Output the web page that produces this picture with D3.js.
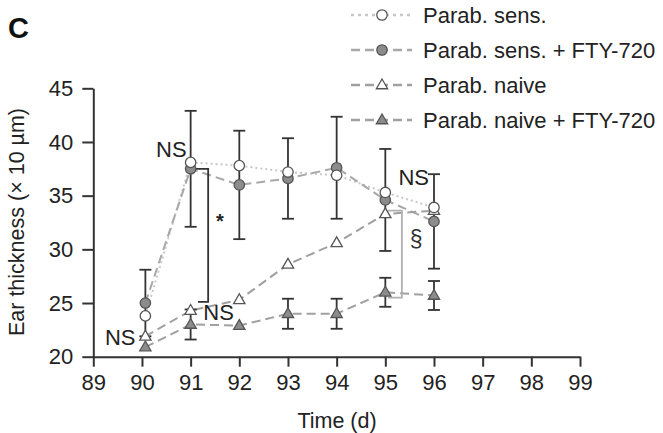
<!DOCTYPE html>
<html>
<head>
<meta charset="utf-8">
<script src="https://cdn.jsdelivr.net/npm/d3@7"></script>
<style>
  body { margin: 0; background: #fff; }
  svg { display: block; font-family: "Liberation Sans", Arial, Helvetica, sans-serif; }
  .axis path, .axis line { stroke: #333; stroke-width: 2; }
  .axis text { font-size: 22px; fill: #222; }
</style>
</head>
<body>
<svg id="canvas" width="663" height="433"></svg>
<script>
// days (day 90 points sit a little right of the tick in the original)
var days = [90.07, 91, 92, 93, 94, 95, 96];

var sens      = [23.8, 38.1, 37.8, 37.2, 36.9, 35.3, 33.9];
var sensFty   = [25.0, 37.5, 36.0, 36.6, 37.6, 34.6, 32.6];
var sensFtyErr = [3.1, 5.4, 5.05, 3.75, 4.75, 4.75, 4.4];
var naive     = [21.9, 24.3, 25.3, 28.6, 30.6, 33.3, 33.6];
var naiveFty  = [20.9, 23.0, 22.9, 24.0, 24.0, 26.0, 25.7];
var naiveFtyErr = [0, 1.4, 0, 1.4, 1.4, 1.35, 1.35];

var xTicks = [89, 90, 91, 92, 93, 94, 95, 96, 97, 98, 99];
var yTicks = [20, 25, 30, 35, 40, 45];

var legendLabels = ["Parab. sens.", "Parab. sens. + FTY-720", "Parab. naive", "Parab. naive + FTY-720"];

// "NS" labels: [day, value] of the text's left baseline
var nsLabels = [[90.29, 38.6], [89.24, 21.1], [91.26, 23.4], [95.27, 36.0]];

var svg = d3.select("#canvas");

var x = d3.scaleLinear().domain([89, 99]).range([93.3, 580]);
var y = d3.scaleLinear().domain([20, 45]).range([356.7, 88.3]);

var series = [
    {name: legendLabels[0], vals: sens, shape: "circle", fill: "#fff", dash: "2,3", lineColor: "#c8c8c8"},
    {name: legendLabels[1], vals: sensFty, err: sensFtyErr, shape: "circle", fill: "#8c8c8c", dash: "9,5", lineColor: "#a8a8a8"},
    {name: legendLabels[2], vals: naive, shape: "triangle", fill: "#fff", dash: "9,5", lineColor: "#a0a0a0"},
    {name: legendLabels[3], vals: naiveFty, err: naiveFtyErr, shape: "triangle", fill: "#8c8c8c", dash: "9,5", lineColor: "#a0a0a0"}
];

// panel letter
svg.append("text").attr("x", 8).attr("y", 38)
    .style("font-size", "29px").style("font-weight", "bold").style("fill", "#111")
    .text("C");

// axes
svg.append("g").attr("class", "axis")
    .attr("transform", "translate(93.3,0)")
    .call(d3.axisLeft(y).tickValues(yTicks).tickSize(11).tickSizeOuter(0).tickPadding(9));

svg.append("g").attr("class", "axis")
    .attr("transform", "translate(0,356.7)")
    .call(d3.axisBottom(x).tickValues(xTicks).tickSize(10).tickSizeOuter(0).tickPadding(8)
        .tickFormat(d3.format("d")));

svg.append("text")
    .attr("transform", "translate(24,222) rotate(-90)")
    .attr("text-anchor", "middle")
    .style("font-size", "21.5px").style("fill", "#222")
    .text("Ear thickness (\u00d7 10 \u00b5m)");

svg.append("text")
    .attr("x", 337).attr("y", 428)
    .attr("text-anchor", "middle")
    .style("font-size", "21.5px").style("fill", "#222")
    .text("Time (d)");

// lines
var line = d3.line().x(function(d, i){ return x(days[i]); }).y(function(d){ return y(d); });
series.forEach(function(s){
    svg.append("path").attr("d", line(s.vals))
        .attr("fill", "none").attr("stroke", s.lineColor)
        .attr("stroke-width", 2).attr("stroke-dasharray", s.dash);
});

// brackets
function bracket(x0, xEnd0, xEnd1, yTop, yBot, color){
    svg.append("path")
        .attr("d", "M" + x(xEnd0) + "," + y(yTop) + "H" + x(x0) + "V" + y(yBot) + "H" + x(xEnd1))
        .attr("fill", "none").attr("stroke", color).attr("stroke-width", 1.8);
}
bracket(91.36, 91.1, 91.15, 37.5, 25.1, "#333");
bracket(95.34, 95.05, 95.05, 33.6, 25.5, "#b0b0b0");

// error bars
series.forEach(function(s){
    if(!s.err) return;
    s.vals.forEach(function(v, i){
        var e = s.err[i];
        if(!e) return;
        var cx = x(days[i]);
        var g = svg.append("g").attr("stroke", "#333").attr("stroke-width", 1.8);
        g.append("line").attr("x1", cx).attr("x2", cx).attr("y1", y(v + e)).attr("y2", y(v - e));
        g.append("line").attr("x1", cx - 6).attr("x2", cx + 6).attr("y1", y(v + e)).attr("y2", y(v + e));
        g.append("line").attr("x1", cx - 6).attr("x2", cx + 6).attr("y1", y(v - e)).attr("y2", y(v - e));
    });
});

// markers
function marker(g, s, cx, cy){
    if(s.shape == "circle"){
        g.append("circle").attr("cx", cx).attr("cy", cy).attr("r", 5.2)
            .attr("fill", s.fill).attr("stroke", "#555").attr("stroke-width", 1.3);
    }else{
        var tri = d3.symbol().type(d3.symbolTriangle).size(55);
        g.append("path").attr("d", tri())
            .attr("transform", "translate(" + cx + "," + (cy + 0.5) + ")")
            .attr("fill", s.fill).attr("stroke", "#555").attr("stroke-width", 1.3);
    }
}
[3, 2, 1, 0].forEach(function(k){
    var s = series[k];
    s.vals.forEach(function(v, i){ marker(svg, s, x(days[i]), y(v)); });
});

// significance text
nsLabels.forEach(function(n){
    svg.append("text").attr("x", x(n[0])).attr("y", y(n[1]))
        .style("font-size", "22px").style("fill", "#222").text("NS");
});
svg.append("text").attr("x", x(91.52)).attr("y", y(32.0))
    .style("font-size", "20px").style("font-weight", "bold").style("fill", "#222").text("*");
svg.append("text").attr("x", x(95.5)).attr("y", y(30.25))
    .style("font-size", "23px").style("fill", "#333").text("\u00a7");

// legend
var legend = svg.append("g");
series.forEach(function(s, i){
    var ly = 15 + i * 35;
    legend.append("line").attr("x1", 351).attr("x2", 412).attr("y1", ly).attr("y2", ly)
        .attr("stroke", s.lineColor).attr("stroke-width", 2.5)
        .attr("stroke-dasharray", s.dash == "2,3" ? "3,4" : "9,5");
    marker(legend, s, 382, ly);
    legend.append("text").attr("x", 423).attr("y", ly + 8)
        .style("font-size", "22px").style("fill", "#222").text(s.name);
});
</script>
</body>
</html>
